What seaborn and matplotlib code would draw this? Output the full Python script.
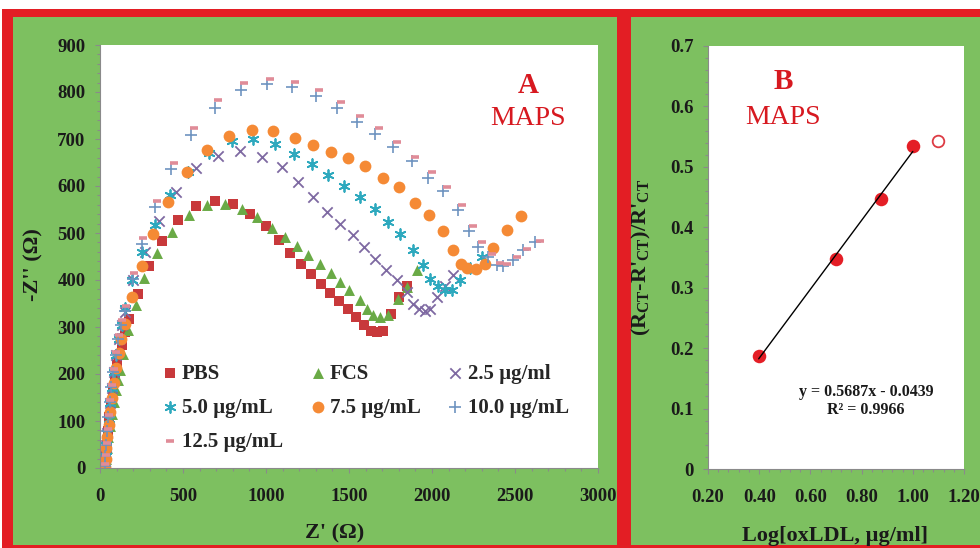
import numpy as np
import pandas as pd
import matplotlib
matplotlib.use("Agg")
import matplotlib.pyplot as plt
import seaborn as sns
from matplotlib.patches import Rectangle
from matplotlib.ticker import MultipleLocator, FormatStrFormatter, FuncFormatter

# ---------------- Data: panel A (Nyquist plots) ----------------
pbs_z = [30, 36, 42, 49, 57, 66, 76, 88, 100, 115, 131, 152, 175, 227, 297, 372, 472, 578, 693, 803,
         904, 1000, 1078, 1145, 1209, 1271, 1331, 1386, 1442, 1496, 1545, 1590, 1630, 1670, 1705,
         1750, 1800, 1850]
pbs_zim = [3, 25, 50, 78, 108, 138, 165, 192, 219, 240, 261, 290, 317, 371, 429, 482, 528, 558, 569, 562,
           541, 515, 485, 457, 433, 412, 391, 373, 355, 339, 322, 305, 292, 290, 292,
           328, 364, 388]

fcs_z = [30, 36, 43, 51, 60, 70, 82, 95, 108, 120, 141, 171, 214, 268, 341, 432, 536, 643, 753, 854,
         944, 1034, 1114, 1185, 1255, 1325, 1390, 1446, 1502, 1566, 1610, 1646, 1687, 1737, 1797,
         1848, 1912]
fcs_zim = [3, 20, 42, 65, 90, 115, 140, 165, 188, 208, 243, 293, 347, 405, 457, 502, 539, 560, 562, 551,
           533, 511, 491, 473, 454, 434, 415, 396, 378, 358, 339, 325, 321, 325, 360,
           386, 422]

c25_z = [30, 34, 39, 45, 52, 60, 70, 82, 97, 115, 130, 151, 201, 271, 357, 458, 578, 709, 843, 974,
         1094, 1195, 1285, 1370, 1446, 1522, 1590, 1657, 1723, 1787, 1847, 1887, 1924, 1958, 1988,
         2028, 2078, 2128]
c25_zim = [5, 25, 48, 75, 105, 138, 170, 205, 240, 275, 305, 332, 399, 459, 525, 587, 638, 664, 675, 662,
           640, 608, 576, 544, 519, 495, 470, 445, 422, 399, 374, 350, 339, 335, 339,
           364, 388, 410]

c50_z = [30, 34, 39, 45, 52, 60, 70, 82, 96, 113, 130, 150, 190, 250, 331, 422, 530, 658, 793, 924,
         1054, 1169, 1275, 1375, 1470, 1566, 1657, 1737, 1807, 1887, 1948, 1988, 2038, 2078, 2119,
         2169, 2230, 2299]
c50_zim = [5, 25, 48, 75, 105, 138, 170, 205, 240, 275, 305, 340, 400, 460, 516, 580, 630, 671, 696, 700,
           689, 669, 647, 624, 601, 576, 551, 524, 498, 464, 431, 403, 388, 378, 378,
           399, 425, 449]

c75_z = [30, 34, 39, 45, 52, 60, 70, 82, 96, 112, 128, 151, 195, 251, 321, 412, 522, 643, 779, 914,
         1044, 1175, 1281, 1390, 1496, 1596, 1703, 1803, 1898, 1982, 2068, 2124, 2173, 2213, 2265,
         2319, 2370, 2450, 2534]
c75_zim = [3, 20, 42, 66, 92, 120, 150, 180, 212, 245, 275, 306, 364, 429, 498, 566, 629, 677, 706, 720,
           717, 702, 688, 672, 659, 642, 616, 597, 563, 539, 505, 464, 433, 426, 424,
           435, 468, 507, 536]

c100_z = [28, 32, 37, 43, 50, 58, 68, 80, 94, 110, 128, 150, 201, 251, 331, 428, 548, 693, 848, 1004,
          1155, 1301, 1426, 1546, 1657, 1763, 1877, 1978, 2068, 2154, 2225, 2279, 2339, 2389, 2430,
          2486, 2550, 2620]
c100_zim = [5, 25, 50, 78, 108, 140, 172, 205, 240, 275, 305, 335, 403, 477, 555, 636, 709, 766, 804, 818,
            811, 792, 766, 737, 710, 682, 654, 618, 589, 549, 505, 470, 450, 431, 429,
            443, 463, 481]

c125_z = [32, 36, 41, 47, 54, 62, 72, 84, 98, 114, 132, 155, 206, 262, 345, 445, 568, 712, 868, 1024,
          1175, 1322, 1450, 1568, 1680, 1788, 1900, 2000, 2093, 2178, 2245, 2300, 2360, 2410, 2452,
          2510, 2575, 2650]
c125_zim = [8, 28, 53, 82, 112, 144, 176, 210, 246, 282, 314, 345, 415, 490, 568, 650, 724, 784, 820, 827,
            822, 805, 779, 750, 723, 693, 662, 629, 598, 560, 515, 480, 456, 437, 433,
            448, 467, 482]

series_labels = ["PBS", "FCS", "2.5 µg/ml", "5.0 µg/mL", "7.5 µg/mL", "10.0 µg/mL", "12.5 µg/mL"]

# ---------------- Data: panel B (calibration) ----------------
b_x = [0.398, 0.699, 0.875, 1.000]
b_y = [0.187, 0.348, 0.446, 0.535]
b_out_x = [1.097]
b_out_y = [0.542]
eq_text = "y = 0.5687x - 0.0439"
r2_text = "R² = 0.9966"

# ---------------- Style ----------------
sns.set_theme(style="white")
plt.rcParams['font.family'] = ['Liberation Serif', 'DejaVu Serif']
plt.rcParams['mathtext.fontset'] = 'custom'
plt.rcParams['mathtext.rm'] = 'Liberation Serif'
plt.rcParams['mathtext.bf'] = 'Liberation Serif:bold'
plt.rcParams['mathtext.it'] = 'Liberation Serif:italic'
plt.rcParams['mathtext.default'] = 'bf'

RED = "#E31E24"
GREEN = "#7DC060"
TXT_RED = "#D71920"
TICK_GRAY = "#8a8a8a"

W, H = 980, 548
fig = plt.figure(figsize=(W / 100, H / 100), dpi=100)
fig.patch.set_facecolor("white")


def px_rect(x0, y0, x1, y1, color):
    fig.add_artist(Rectangle((x0 / W, 1 - y1 / H), (x1 - x0) / W, (y1 - y0) / H,
                             transform=fig.transFigure, facecolor=color,
                             edgecolor="none", zorder=-10))


px_rect(2, 9, 980, 548, RED)
px_rect(13, 17, 617, 545, GREEN)
px_rect(631, 17, 980, 545, GREEN)


def style_axes(ax):
    ax.set_facecolor("white")
    for sp in ["top", "right"]:
        ax.spines[sp].set_visible(False)
    for sp in ["left", "bottom"]:
        ax.spines[sp].set_color(TICK_GRAY)
        ax.spines[sp].set_linewidth(0.8)
    ax.tick_params(which="both", direction="out", color=TICK_GRAY, width=0.8,
                   bottom=True, left=True, labelcolor="#1a1a1a", labelsize=13.5)
    ax.tick_params(which="major", length=3.5)
    ax.tick_params(which="minor", length=2.5)
    ax.tick_params(axis="x", which="major", pad=11)
    ax.tick_params(axis="y", which="major", pad=7)
    for lbl in ax.get_xticklabels() + ax.get_yticklabels():
        lbl.set_fontweight("bold")


# ---------------- Panel A ----------------
ax1 = fig.add_axes([100 / W, 1 - 468 / H, 498 / W, 423 / H])

specs = [
    (pbs_z, pbs_zim, dict(marker="s", s=52, color="#C8393B", edgecolor="#C8393B", linewidth=0)),
    (fcs_z, fcs_zim, dict(marker="^", s=62, color="#6AAA46", edgecolor="#6AAA46", linewidth=0)),
    (c25_z, c25_zim, dict(marker="x", s=55, color="#7E69A2", linewidth=1.3)),
    (c50_z, c50_zim, dict(marker=(6, 2, 0), s=60, color="#2EA9BE", linewidth=1.3)),
    (c75_z, c75_zim, dict(marker="o", s=72, color="#F58A35", edgecolor="#F58A35", linewidth=0)),
    (c100_z, c100_zim, dict(marker="+", s=65, color="#6E93C0", linewidth=1.2)),
    (c125_z, c125_zim, dict(marker="_", s=28, color="#E08C98", linewidth=2.6)),
]
for (xs, ys, kw), lab in zip(specs, series_labels):
    df = pd.DataFrame({"Zre": xs, "Zim": ys})
    sns.scatterplot(data=df, x="Zre", y="Zim", ax=ax1, label=lab, legend=False, **kw)

ax1.set_xlim(0, 3000)
ax1.set_ylim(0, 900)
ax1.xaxis.set_major_locator(MultipleLocator(500))
ax1.xaxis.set_minor_locator(MultipleLocator(100))
ax1.yaxis.set_major_locator(MultipleLocator(100))
ax1.yaxis.set_minor_locator(MultipleLocator(20))
style_axes(ax1)

ax1.set_xlabel("Z' (Ω)", fontsize=16, fontweight="bold", color="#1a1a1a")
ax1.set_ylabel("-Z'' (Ω)", fontsize=16, fontweight="bold", color="#1a1a1a")
ax1.xaxis.set_label_coords(0.472, -0.132)
ax1.yaxis.set_label_coords(-0.114, 0.48)

handles, labels = ax1.get_legend_handles_labels()
order = [0, 3, 6, 1, 4, 2, 5]
ax1.legend([handles[i] for i in order], [labels[i] for i in order], ncol=3,
           loc="upper left", bbox_to_anchor=(0.125, 0.247), frameon=False,
           prop={"family": "Liberation Serif", "weight": "bold", "size": 15},
           handlelength=0.7, handletextpad=0.25, columnspacing=1.3,
           labelspacing=0.68, borderpad=0, borderaxespad=0)

ax1.text(0.859, 0.905, "A", transform=ax1.transAxes, ha="center", va="center",
         fontsize=21, fontweight="bold", color=TXT_RED)
ax1.text(0.859, 0.827, "MAPS", transform=ax1.transAxes, ha="center", va="center",
         fontsize=20, color=TXT_RED)

# ---------------- Panel B ----------------
ax2 = fig.add_axes([708 / W, 1 - 469 / H, 256 / W, 423 / H])
sns.scatterplot(x=b_x, y=b_y, ax=ax2, s=95, color="#E41E26", edgecolor="#E41E26",
                linewidth=0, legend=False, zorder=2)
sns.scatterplot(x=b_out_x, y=b_out_y, ax=ax2, s=70, color="white", edgecolor="#DD3B44",
                linewidth=1.3, legend=False, zorder=2)
sns.regplot(x=b_x, y=b_y, ax=ax2, ci=None, scatter=False, truncate=True,
            line_kws=dict(color="black", lw=1.0, zorder=3))

ax2.set_xlim(0.2, 1.2)
ax2.set_ylim(0, 0.7)
ax2.xaxis.set_major_locator(MultipleLocator(0.2))
ax2.xaxis.set_minor_locator(MultipleLocator(0.04))
ax2.yaxis.set_major_locator(MultipleLocator(0.1))
ax2.yaxis.set_minor_locator(MultipleLocator(0.02))
ax2.xaxis.set_major_formatter(FormatStrFormatter("%.2f"))
ax2.yaxis.set_major_formatter(FuncFormatter(lambda v, p: "0" if abs(v) < 1e-9 else f"{v:.1f}"))
style_axes(ax2)

ax2.set_xlabel("Log[oxLDL, µg/ml]", fontsize=16, fontweight="bold", color="#1a1a1a")
ax2.set_ylabel(r"(R$_{\mathbf{CT}}$-R'$_{\mathbf{CT}}$)/R'$_{\mathbf{CT}}$", fontsize=16,
               fontweight="bold", color="#1a1a1a")
ax2.xaxis.set_label_coords(0.496, -0.134)
ax2.yaxis.set_label_coords(-0.215, 0.50)

ax2.text(0.293, 0.915, "B", transform=ax2.transAxes, ha="center", va="center",
         fontsize=21, fontweight="bold", color=TXT_RED)
ax2.text(0.293, 0.830, "MAPS", transform=ax2.transAxes, ha="center", va="center",
         fontsize=20, color=TXT_RED)
ax2.text(0.617, 0.182, eq_text, transform=ax2.transAxes, ha="center", va="center",
         fontsize=11.5, fontweight="bold", color="#1a1a1a")
ax2.text(0.617, 0.139, r2_text, transform=ax2.transAxes, ha="center", va="center",
         fontsize=11.5, fontweight="bold", color="#1a1a1a")

fig.savefig("out.png", dpi=100, facecolor=fig.get_facecolor())
